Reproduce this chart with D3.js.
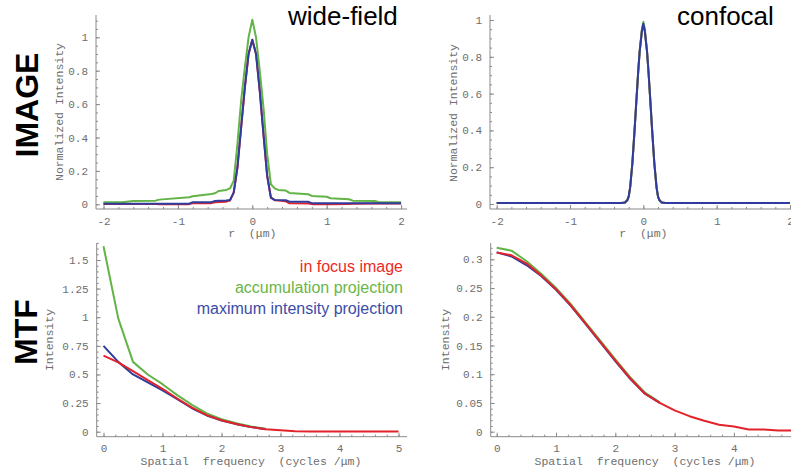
<!DOCTYPE html>
<html>
<head>
<meta charset="utf-8">
<script src="https://cdn.jsdelivr.net/npm/d3@7"></script>
<style>
  body { margin: 0; background: #fff; }
  svg { display: block; }
  .tick text { font-family: "Liberation Mono", "Courier New", monospace; font-size: 11px; fill: #6e6e6e; }
  .tick line { stroke: #8a8a8a; stroke-width: 1; }
  .axis-line { stroke: #8a8a8a; stroke-width: 1; }
  .axis-title { font-family: "Liberation Mono", "Courier New", monospace; font-size: 11.5px; fill: #6e6e6e; }
  .row-title { font-family: "Liberation Sans", Arial, sans-serif; font-weight: bold; font-size: 32px; fill: #000; }
  .col-title { font-family: "Liberation Sans", Arial, sans-serif; font-size: 26px; fill: #000; }
  .legend { font-family: "Liberation Sans", Arial, sans-serif; font-size: 16px; }
  .curve { fill: none; stroke-width: 2; stroke-linejoin: round; }
</style>
</head>
<body>
<svg id="chart" width="791" height="470"></svg>
<script>
// ---- Line profiles through the point image, r in µm ----
const wfR = [-2, -1.75, -1.6, -1.3, -1.25, -0.85, -0.8, -0.55, -0.5, -0.45, -0.35, -0.3, -0.25, -0.2, -0.15, -0.1, -0.05, 0,
             0.05, 0.1, 0.15, 0.2, 0.25, 0.3, 0.35, 0.45, 0.5, 0.75, 0.8, 1.0, 1.05, 1.3, 1.35, 1.65, 1.7, 2];
const wfInFocus = [0.002, 0.002, 0.002, 0.002, 0.001, 0.001, 0.006, 0.007, 0.012, 0.014, 0.016, 0.022, 0.07, 0.22, 0.46, 0.7, 0.9, 0.985,
                   0.9, 0.68, 0.42, 0.17, 0.04, 0.024, 0.022, 0.018, 0.006, 0.005, 0.001, 0.001, 0.001, 0.002, 0.004, 0.005, 0.005, 0.005];
const wfAccum = [0.012, 0.012, 0.02, 0.022, 0.028, 0.042, 0.048, 0.062, 0.066, 0.08, 0.086, 0.095, 0.14, 0.36, 0.62, 0.82, 1.0, 1.105,
                 1.0, 0.8, 0.58, 0.3, 0.12, 0.095, 0.086, 0.082, 0.068, 0.06, 0.05, 0.045, 0.036, 0.03, 0.022, 0.02, 0.013, 0.012];
const wfMaxProj = [0.004, 0.004, 0.004, 0.004, 0.004, 0.004, 0.012, 0.013, 0.02, 0.022, 0.023, 0.026, 0.07, 0.22, 0.46, 0.7, 0.9, 0.985,
                   0.9, 0.68, 0.42, 0.17, 0.04, 0.026, 0.025, 0.024, 0.016, 0.015, 0.007, 0.006, 0.006, 0.006, 0.006, 0.006, 0.006, 0.006];

const cfR = [-2, -0.3, -0.25, -0.22, -0.2, -0.18, -0.15, -0.12, -0.1, -0.07, -0.05, -0.02, 0,
             0.02, 0.05, 0.07, 0.1, 0.12, 0.15, 0.18, 0.2, 0.22, 0.25, 0.3, 2];
const cfInFocus = [0.006, 0.006, 0.008, 0.02, 0.04, 0.09, 0.22, 0.4, 0.53, 0.72, 0.83, 0.94, 0.975,
                   0.94, 0.83, 0.72, 0.53, 0.4, 0.22, 0.09, 0.04, 0.02, 0.008, 0.006, 0.006];
const cfAccum = [0.006, 0.006, 0.008, 0.02, 0.04, 0.09, 0.22, 0.4, 0.53, 0.72, 0.83, 0.95, 0.99,
                 0.95, 0.83, 0.72, 0.53, 0.4, 0.22, 0.09, 0.04, 0.02, 0.008, 0.006, 0.006];
const cfMaxProj = [0.006, 0.006, 0.008, 0.02, 0.04, 0.09, 0.22, 0.4, 0.53, 0.72, 0.83, 0.94, 0.98,
                   0.94, 0.83, 0.72, 0.53, 0.4, 0.22, 0.09, 0.04, 0.02, 0.008, 0.006, 0.006];

// ---- Modulation transfer functions, spatial frequency in cycles/µm ----
const freq = [0, 0.25, 0.5, 0.75, 1, 1.25, 1.5, 1.75, 2, 2.25, 2.5, 2.75, 3, 3.25, 3.5, 3.75, 4, 4.25, 4.5, 4.75, 5];
const mtfWfInFocus = [0.665, 0.605, 0.53, 0.45, 0.375, 0.29, 0.21, 0.145, 0.1, 0.068, 0.04, 0.022, 0.012, 0.003,
                      0.002, 0.002, 0.002, 0.002, 0.002, 0.002, 0.002];
const mtfWfAccum = [1.62, 0.99, 0.61, 0.5, 0.415, 0.32, 0.235, 0.16, 0.11, 0.075, 0.045, 0.026];
const mtfWfMaxProj = [0.75, 0.61, 0.5, 0.43, 0.36, 0.285, 0.205, 0.142, 0.098, 0.066, 0.04, 0.022];

const mtfCfInFocus = [0.312, 0.307, 0.293, 0.272, 0.248, 0.22, 0.188, 0.156, 0.124, 0.093, 0.066, 0.05, 0.037, 0.027,
                      0.019, 0.012, 0.009, 0.004, 0.004, 0.002, 0.002];
const mtfCfAccum = [0.32, 0.315, 0.297, 0.275, 0.25, 0.222, 0.19, 0.158, 0.126, 0.095, 0.068, 0.051];
const mtfCfMaxProj = [0.312, 0.305, 0.29, 0.271, 0.247, 0.219, 0.187, 0.155, 0.123, 0.092, 0.066, 0.05];

// ---- Tick labels ----
const rTicks = [-2, -1, 0, 1, 2];
const profileTicks = [0, 0.2, 0.4, 0.6, 0.8, 1];
const freqTicks = [0, 1, 2, 3, 4, 5];
const mtfWfTicks = [0, 0.25, 0.5, 0.75, 1, 1.25, 1.5];
const mtfCfTicks = [0, 0.05, 0.1, 0.15, 0.2, 0.25, 0.3];

const seriesNames = ["in focus image", "accumulation projection", "maximum intensity projection"];
const colors = { inFocus: "#e3232a", accum: "#62b446", maxProj: "#2f3c9d" };
const legendColors = ["#ec2a26", "#69b649", "#3a4ca7"];

const svg = d3.select("#chart");

function panel(cfg) {
  const g = svg.append("g");
  const x = d3.scaleLinear().domain(cfg.xDomain).range(cfg.xRange);
  const y = d3.scaleLinear().domain(cfg.yDomain).range(cfg.yRange);

  // axis lines (offset from the data origin)
  g.append("line").attr("class", "axis-line")
    .attr("x1", cfg.axisX).attr("x2", cfg.axisX).attr("y1", cfg.yTop).attr("y2", cfg.axisY);
  g.append("line").attr("class", "axis-line")
    .attr("x1", cfg.axisX).attr("x2", cfg.xEnd).attr("y1", cfg.axisY).attr("y2", cfg.axisY);

  const xMajor = g.append("g").attr("transform", `translate(0,${cfg.axisY})`)
    .call(d3.axisBottom(x).tickValues(cfg.xTicks).tickSizeInner(-4).tickSizeOuter(0).tickPadding(8).tickFormat(d => String(d)));
  xMajor.select(".domain").remove();
  const xMinor = g.append("g").attr("transform", `translate(0,${cfg.axisY})`)
    .call(d3.axisBottom(x).tickValues(cfg.xMinor).tickSize(-2).tickFormat(""));
  xMinor.select(".domain").remove();

  const yMajor = g.append("g").attr("transform", `translate(${cfg.axisX},0)`)
    .call(d3.axisLeft(y).tickValues(cfg.yTicks).tickSizeInner(-4).tickSizeOuter(0).tickPadding(8).tickFormat(d => String(d)));
  yMajor.select(".domain").remove();
  const yMinor = g.append("g").attr("transform", `translate(${cfg.axisX},0)`)
    .call(d3.axisLeft(y).tickValues(cfg.yMinor).tickSize(-2).tickFormat(""));
  yMinor.select(".domain").remove();

  // axis titles
  g.append("text").attr("class", "axis-title")
    .attr("x", (cfg.xRange[0] + cfg.xRange[1]) / 2).attr("y", cfg.xTitleY)
    .attr("text-anchor", "middle").attr("xml:space", "preserve").text(cfg.xTitle);
  g.append("text").attr("class", "axis-title")
    .attr("transform", `translate(${cfg.yTitleX},${cfg.yTitleMid}) rotate(-90)`)
    .attr("text-anchor", "middle").text(cfg.yTitle);

  // curves
  cfg.series.forEach(s => {
    const pts = s.values.map((v, i) => [s.xs[i], v]);
    g.append("path").attr("class", "curve")
      .attr("stroke", s.color)
      .attr("d", d3.line().x(d => x(d[0])).y(d => y(d[1]))(pts));
  });
  return g;
}

function minorTicks(lo, hi, step) {
  return d3.range(Math.round((hi - lo) / step) + 1).map(i => +(lo + i * step).toFixed(4));
}

// wide-field point image
panel({
  xDomain: [-2, 2], xRange: [103.5, 401.1], yDomain: [0, 1], yRange: [204.3, 37.3],
  axisX: 96, axisY: 209, yTop: 15, xEnd: 407,
  xTicks: rTicks, xMinor: minorTicks(-2, 2, 0.2), yTicks: profileTicks, yMinor: minorTicks(0, 1.1, 0.05),
  xTitle: "r  (\u03bcm)", xTitleY: 237, yTitle: "Normalized Intensity", yTitleX: 63, yTitleMid: 112,
  series: [
    { xs: wfR, values: wfInFocus, color: colors.inFocus },
    { xs: wfR, values: wfAccum, color: colors.accum },
    { xs: wfR, values: wfMaxProj, color: colors.maxProj }
  ]
});

// confocal point image
panel({
  xDomain: [-2, 2], xRange: [496.7, 790], yDomain: [0, 1], yRange: [204, 20],
  axisX: 490, axisY: 209, yTop: 15, xEnd: 791,
  xTicks: rTicks, xMinor: minorTicks(-2, 2, 0.2), yTicks: profileTicks, yMinor: minorTicks(0, 1, 0.05),
  xTitle: "r  (\u03bcm)", xTitleY: 237, yTitle: "Normalized Intensity", yTitleX: 457, yTitleMid: 113,
  series: [
    { xs: cfR, values: cfInFocus, color: colors.inFocus },
    { xs: cfR, values: cfAccum, color: colors.accum },
    { xs: cfR, values: cfMaxProj, color: colors.maxProj }
  ]
});

// wide-field MTF
panel({
  xDomain: [0, 5], xRange: [103.5, 398.5], yDomain: [0, 1.5], yRange: [431.7, 260],
  axisX: 96.7, axisY: 436.7, yTop: 243, xEnd: 407,
  xTicks: freqTicks, xMinor: minorTicks(0, 5, 0.2), yTicks: mtfWfTicks, yMinor: minorTicks(0, 1.65, 0.05),
  xTitle: "Spatial  frequency  (cycles /\u03bcm)", xTitleY: 465, yTitle: "Intensity", yTitleX: 53, yTitleMid: 340,
  series: [
    { xs: freq, values: mtfWfAccum, color: colors.accum },
    { xs: freq, values: mtfWfMaxProj, color: colors.maxProj },
    { xs: freq, values: mtfWfInFocus, color: colors.inFocus }
  ]
});

// confocal MTF
panel({
  xDomain: [0, 5], xRange: [496.7, 793.2], yDomain: [0, 0.3], yRange: [431.7, 259.3],
  axisX: 490.7, axisY: 436.7, yTop: 243, xEnd: 791,
  xTicks: freqTicks, xMinor: minorTicks(0, 5, 0.2), yTicks: mtfCfTicks, yMinor: minorTicks(0, 0.32, 0.01),
  xTitle: "Spatial  frequency  (cycles /\u03bcm)", xTitleY: 465, yTitle: "Intensity", yTitleX: 449, yTitleMid: 340,
  series: [
    { xs: freq, values: mtfCfAccum, color: colors.accum },
    { xs: freq, values: mtfCfMaxProj, color: colors.maxProj },
    { xs: freq, values: mtfCfInFocus, color: colors.inFocus }
  ]
});

// row and column headings
svg.append("text").attr("class", "row-title")
  .attr("transform", "translate(38,105) rotate(-90)").attr("text-anchor", "middle").text("IMAGE");
svg.append("text").attr("class", "row-title")
  .attr("transform", "translate(37,332) rotate(-90)").attr("text-anchor", "middle").text("MTF");
svg.append("text").attr("class", "col-title").attr("x", 288).attr("y", 25).text("wide-field");
svg.append("text").attr("class", "col-title").attr("x", 677).attr("y", 25).text("confocal");

// legend
const legendY = [272, 293, 314];
seriesNames.forEach((name, i) => {
  svg.append("text").attr("class", "legend")
    .attr("x", 403).attr("y", legendY[i]).attr("text-anchor", "end")
    .attr("fill", legendColors[i]).text(name);
});
</script>
</body>
</html>
